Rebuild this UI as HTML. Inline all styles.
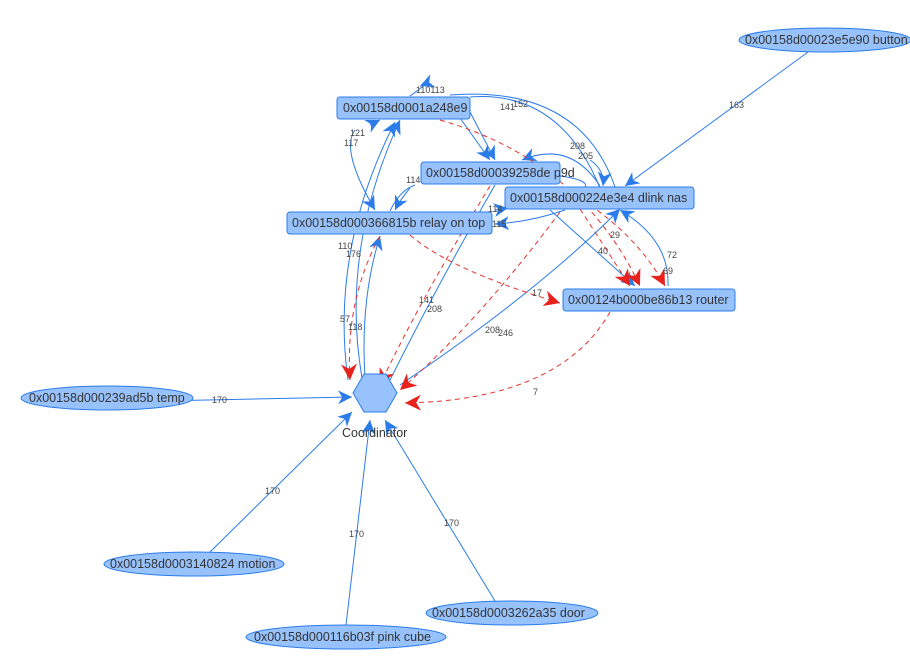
<!DOCTYPE html>
<html><head><style>
body{margin:0;background:#fff;width:910px;height:667px;overflow:hidden}
svg{font-family:"Liberation Sans",Arial,sans-serif}
.n{fill:#97c2fc;stroke:#2b7ce9;stroke-width:1}
.t{font-size:12.5px;fill:#343434}
.l{font-size:9px;fill:#444}
.b{stroke:#2b7ce9;fill:none;stroke-width:1}
.r{stroke:#e8312c;fill:none;stroke-width:1;stroke-dasharray:5,4}
</style></head><body>
<svg width="910" height="667" viewBox="0 0 910 667">
<defs>
<marker id="ab" viewBox="0 0 10 10" refX="10" refY="5" markerWidth="14" markerHeight="14" markerUnits="userSpaceOnUse" orient="auto"><path d="M0,0L10,5L0,10L3,5z" fill="#2b7ce9"/></marker>
<marker id="ar" viewBox="0 0 10 10" refX="10" refY="5" markerWidth="16" markerHeight="16" markerUnits="userSpaceOnUse" orient="auto"><path d="M0,0L10,5L0,10L3,5z" fill="#e8211c"/></marker>
</defs>
<path class="b" d="M808,52 L625,186" marker-end="url(#ab)"/>
<path class="b" d="M160,401 L352,397" marker-end="url(#ab)"/>
<path class="b" d="M210,552 L352,412" marker-end="url(#ab)"/>
<path class="b" d="M346,625 L370,420" marker-end="url(#ab)"/>
<path class="b" d="M495,601 L385,420" marker-end="url(#ab)"/>
<path class="b" d="M400,385 Q540,290 620,209" marker-end="url(#ab)"/>
<path class="b" d="M390,380 Q440,280 495,185"/>
<path class="b" d="M348,380 Q330,250 395,122" marker-end="url(#ab)"/>
<path class="b" d="M362,378 Q340,250 400,120" marker-end="url(#ab)"/>
<path class="b" d="M365,378 Q360,300 380,236" marker-end="url(#ab)"/>
<path class="b" d="M355,130 Q340,150 375,210" marker-end="url(#ab)"/>
<path class="b" d="M370,125 L380,120" marker-end="url(#ab)"/>
<path class="b" d="M460,118 L490,160" marker-end="url(#ab)"/>
<path class="b" d="M470,112 L495,160" marker-end="url(#ab)"/>
<path class="b" d="M410,96 Q430,82 420,86" marker-end="url(#ab)"/>
<path class="b" d="M470,97 Q560,90 600,188"/>
<path class="b" d="M450,95 Q580,85 615,187" />
<path class="b" d="M600,186 Q570,140 522,160" marker-end="url(#ab)"/>
<path class="b" d="M590,160 Q605,170 603,186" marker-end="url(#ab)"/>
<path class="b" d="M560,176 Q590,180 585,188"/>
<path class="b" d="M390,211 Q400,190 415,185"/>
<path class="b" d="M410,188 Q400,200 395,210" marker-end="url(#ab)"/>
<path class="b" d="M495,210 L508,208" marker-end="url(#ab)"/>
<path class="b" d="M565,210 Q530,222 495,224" marker-end="url(#ab)"/>
<path class="b" d="M550,210 L635,286" marker-end="url(#ab)"/>
<path class="b" d="M668,286 Q670,240 620,210" marker-end="url(#ab)"/>
<path class="r" d="M440,120 Q580,160 640,286" marker-end="url(#ar)"/>
<path class="r" d="M590,205 Q640,240 665,286" marker-end="url(#ar)"/>
<path class="r" d="M580,209 L630,286" marker-end="url(#ar)"/>
<path class="r" d="M410,235 Q450,270 560,303" marker-end="url(#ar)"/>
<path class="r" d="M380,236 Q345,300 350,380" marker-end="url(#ar)"/>
<path class="r" d="M490,186 Q420,300 380,385" marker-end="url(#ar)"/>
<path class="r" d="M560,212 Q480,320 400,390" marker-end="url(#ar)"/>
<path class="r" d="M610,312 Q560,400 405,403" marker-end="url(#ar)"/>
<rect class="n" x="337" y="97" width="133" height="22" rx="3"/>
<text class="t" x="343" y="112">0x00158d0001a248e9</text>
<rect class="n" x="421" y="162" width="139" height="22" rx="3"/>
<text class="t" x="426" y="177">0x00158d00039258de p9d</text>
<rect class="n" x="505" y="187" width="189" height="22" rx="3"/>
<text class="t" x="510" y="202">0x00158d000224e3e4 dlink nas</text>
<rect class="n" x="287" y="212" width="205" height="22" rx="3"/>
<text class="t" x="292" y="227">0x00158d000366815b relay on top</text>
<rect class="n" x="563" y="289" width="172" height="22" rx="3"/>
<text class="t" x="568" y="304">0x00124b000be86b13 router</text>
<ellipse class="n" cx="825" cy="40" rx="86" ry="12"/>
<text class="t" x="745" y="44">0x00158d00023e5e90 button</text>
<ellipse class="n" cx="107" cy="398" rx="86" ry="12"/>
<text class="t" x="29" y="402">0x00158d000239ad5b temp</text>
<ellipse class="n" cx="194" cy="564" rx="90" ry="12"/>
<text class="t" x="110" y="568">0x00158d0003140824 motion</text>
<ellipse class="n" cx="346" cy="637" rx="100" ry="12"/>
<text class="t" x="254" y="641">0x00158d000116b03f pink cube</text>
<ellipse class="n" cx="512" cy="613" rx="86" ry="12"/>
<text class="t" x="432" y="617">0x00158d0003262a35 door</text>
<polygon class="n" points="353,393 364,374 386,374 397,393 386,412 364,412"/>
<text class="t" x="342" y="437">Coordinator</text>
<g class="l">
<text x="729" y="108">163</text><text x="212" y="403">170</text><text x="265" y="494">170</text>
<text x="349" y="537">170</text><text x="444" y="526">170</text>
<text x="416" y="93">110113</text><text x="500" y="110">141</text><text x="513" y="107">152</text>
<text x="350" y="136">121</text><text x="344" y="146">117</text>
<text x="570" y="149">208</text><text x="578" y="159">205</text>
<text x="406" y="183">114</text><text x="488" y="212">114</text><text x="492" y="227">115</text>
<text x="338" y="249">110</text><text x="346" y="257">176</text>
<text x="340" y="322">57</text><text x="348" y="330">118</text>
<text x="419" y="303">141</text><text x="427" y="312">208</text>
<text x="485" y="333">208</text><text x="498" y="336">246</text>
<text x="532" y="296">17</text><text x="598" y="254">40</text><text x="610" y="238">29</text>
<text x="667" y="258">72</text><text x="663" y="274">69</text><text x="533" y="395">7</text>
</g>
</svg>
</body></html>
